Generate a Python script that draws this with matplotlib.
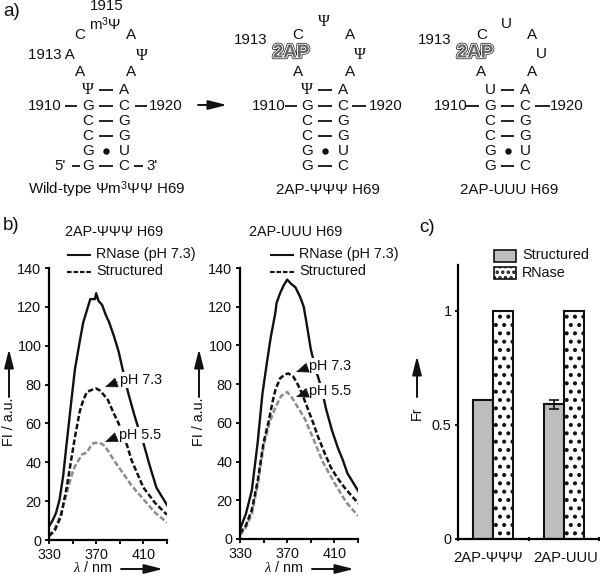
import matplotlib
matplotlib.use("Agg")
import matplotlib.pyplot as plt
import matplotlib.patheffects as pe
from matplotlib.patches import Rectangle

plt.rcParams['font.family'] = ['Liberation Sans', 'DejaVu Sans']
plt.rcParams['mathtext.fontset'] = 'custom'
plt.rcParams['mathtext.it'] = 'Liberation Serif:italic'
plt.rcParams['mathtext.rm'] = 'Liberation Sans'
plt.rcParams['hatch.linewidth'] = 1.7

PSI = 'Ψ'
FS = 10.4

# Panel b, 2AP-ΨΨΨ H69
wl_a_rnase = [330, 333, 336, 339, 342, 345, 349, 352, 356, 359, 362, 365, 367, 369, 370, 372, 375, 378, 381, 385, 389, 392, 397, 402, 406, 410, 415, 421, 425, 430]
fl_a_rnase = [7, 10, 14, 21, 33, 50, 72, 88, 102, 112, 118, 124, 124, 124, 127, 123, 121, 116, 112, 105, 97, 89, 76, 65, 57, 50, 39, 27, 23, 18]
wl_a_struct = [330, 335, 340, 345, 349, 352, 356, 359, 362, 365, 370, 373, 376, 380, 385, 389, 392, 396, 400, 405, 410, 415, 420, 425, 430]
fl_a_struct = [2, 5, 12, 27, 42, 53, 66, 72, 76, 77, 78, 77, 75, 72, 65, 60, 55, 49, 41, 34, 27, 23, 19, 16, 13]
wl_a_55 = [330, 335, 340, 345, 349, 352, 358, 362, 365, 368, 370, 373, 376, 380, 385, 392, 400, 410, 420, 430]
fl_a_55 = [2, 6, 13, 24, 33, 38, 44, 45, 48, 50, 50, 50, 49, 46, 41, 35, 28, 21, 14, 9]

# Panel b, 2AP-UUU H69
wl_b_rnase = [330, 335, 340, 345, 349, 353, 356, 360, 361, 364, 367, 370, 373, 377, 381, 384, 386, 390, 394, 399, 403, 408, 413, 417, 421, 426, 431]
fl_b_rnase = [5, 13, 25, 50, 75, 92, 104, 117, 122, 127, 131, 134, 132, 130, 125, 120, 113, 98, 88, 78, 67, 56, 47, 41, 34, 29, 24]
wl_b_struct = [330, 335, 340, 345, 350, 354, 358, 360, 364, 368, 371, 375, 378, 382, 387, 392, 396, 402, 407, 412, 418, 425, 431]
fl_b_struct = [3, 7, 15, 30, 50, 60, 72, 77, 83, 85, 85.5, 84, 81, 76, 68, 60, 53, 44, 37, 32, 27, 22, 18]
wl_b_55 = [330, 335, 340, 345, 350, 355, 360, 365, 368, 370, 374, 378, 385, 392, 400, 410, 420, 430]
fl_b_55 = [2, 6, 13, 28, 48, 60, 68, 74, 75, 76, 73, 69, 62, 52, 40, 29, 19, 12]

wl_ticks = [330, 350, 370, 390, 410, 430]
wl_labels = ['330', '', '370', '', '410', '']
fl_ticks = [0, 20, 40, 60, 80, 100, 120, 140]

# Panel c
groups = ['2AP-ΨΨΨ', '2AP-UUU']
fr_structured = [0.61, 0.59]
fr_rnase = [1.0, 1.0]
fr_err = [0.0, 0.02]

W, H = 600, 576
fig = plt.figure(figsize=(W / 100, H / 100), dpi=100, facecolor='white')


def axes_px(x0, y_top, x1, y_bot):
    return fig.add_axes([x0 / W, 1 - y_bot / H, (x1 - x0) / W, (y_bot - y_top) / H])


def style(ax):
    ax.spines['top'].set_visible(False)
    ax.spines['right'].set_visible(False)
    for s in ('left', 'bottom'):
        ax.spines[s].set_linewidth(1.6)
    ax.tick_params(width=1.4, length=3, labelsize=FS, pad=2.5, colors='#111111')
    ax.patch.set_alpha(0)


def spectra(ax, rn, st, lo):
    ax.plot(*rn, color='#111111', lw=1.7)
    ax.plot(*lo, color='#8c8c8c', lw=1.8, ls=(0, (2.2, 1.0)))
    ax.plot(*st, color='#111111', lw=1.8, ls=(0, (2.2, 1.0)))
    ax.set_xlim(330, 430)
    ax.set_ylim(0, 140)
    ax.set_xticks(wl_ticks, wl_labels)
    ax.set_yticks(fl_ticks)
    style(ax)


ax1 = axes_px(49, 268, 167, 540)
spectra(ax1, (wl_a_rnase, fl_a_rnase), (wl_a_struct, fl_a_struct), (wl_a_55, fl_a_55))
ax2 = axes_px(240, 268, 358, 539)
spectra(ax2, (wl_b_rnase, fl_b_rnase), (wl_b_struct, fl_b_struct), (wl_b_55, fl_b_55))

ax3 = axes_px(458, 265, 599, 539)
pos = [0.5, 1.5]
bw = 0.285
ax3.bar([p - bw / 2 for p in pos], fr_structured, bw, color='#bdbdbd', edgecolor='#111111', lw=1.5)
ax3.bar([p + bw / 2 for p in pos], fr_rnase, bw, color='white', edgecolor='#111111', lw=1.5, hatch='..')
ax3.errorbar([pos[1] - bw / 2], [fr_structured[1]], yerr=[fr_err[1]], color='#111111', lw=1.2, capsize=3.5, capthick=1.2)
ax3.set_xlim(0, 2)
ax3.set_ylim(0, 1.2)
ax3.set_xticks([0, 1, 2], ['', '', ''])
ax3.set_yticks([0, 0.5, 1], ['0', '0.5', '1'])
style(ax3)
ax3.tick_params(axis='x', length=2.5, direction='inout')
ax3.tick_params(axis='y', length=2)

# Overlay in pixel coordinates for the secondary structures and annotations
ov = fig.add_axes([0, 0, 1, 1], zorder=10)
ov.set_xlim(0, W)
ov.set_ylim(H, 0)
ov.axis('off')


def T(x, y, s, ha='center', size=FS, **kw):
    return ov.text(x, y, s, ha=ha, va='center', fontsize=size, color='#111111', **kw)


def dash(x0, x1, y, lw=1.3):
    ov.plot([x0, x1], [y, y], color='#111111', lw=lw, solid_capstyle='butt')


def arrow(x0, y0, x1, y1, ms=14):
    ov.annotate('', xy=(x1, y1), xytext=(x0, y0),
                arrowprops=dict(arrowstyle='-|>,head_length=0.8,head_width=0.2', color='#111111', lw=1.4,
                                shrinkA=0, shrinkB=0, mutation_scale=ms))


def psi(x, y):
    T(x, y, PSI, family='Liberation Serif', size=11.5)


def stem(xl, xr, top, d1, d3, lab_l, lab_r):
    rows = [('G', 'C', '-'), ('C', 'G', '-'), ('C', 'G', '-'), ('G', 'U', '.'), ('G', 'C', '-')]
    for i, (a, b, k) in enumerate(rows):
        y = 106 + i * 15
        T(xl, y, a, size=11)
        T(xr, y, b, size=11)
        if k == '-':
            dash(xl + 11, xr - 11, y)
        else:
            ov.plot([(xl + xr) / 2], [y], 'o', ms=3.6, color='#111111')
    if top == PSI:
        psi(xl, 90)
    else:
        T(xl, 90, top, size=11)
    T(xr, 90, 'A', size=11)
    dash(xl + 11, xr - 11, 90)
    dash(*d1, 106)
    dash(*d3, 106)
    T(lab_l, 106, '1910', size=10.8)
    T(lab_r, 106, '1920', size=10.8)


def outlined(x, y):
    t = T(x, y, '2AP', size=13.5, fontweight='bold')
    t.set_color('#666666')
    t.set_path_effects([pe.Stroke(linewidth=2.4, foreground='#111111'),
                        pe.Stroke(linewidth=1.4, foreground='white'),
                        pe.Normal()])


T(3, 12, 'a)', ha='left', size=13.5)
T(3, 226, 'b)', ha='left', size=13.5)
T(419, 228, 'c)', ha='left', size=13.5)

# Wild type
T(107, 6, '1915', size=10.8)
T(105, 24, 'm$^{3}$Ψ', size=10.8)
T(80, 35, 'C', size=11); T(131, 35, 'A', size=11)
T(51, 55, '1913 A', size=10.8); psi(142, 56)
T(80, 72, 'A', size=11); T(131, 72, 'A', size=11)
stem(88, 124, PSI, (65, 77), (135, 147), 45, 166)
T(60, 166, "5'", size=10.8); dash(72, 80, 166); dash(134, 143, 166); T(152, 166, "3'", size=10.8)
T(107, 190, 'Wild-type Ψm$^{3}$ΨΨ H69', size=10.9)
arrow(198, 105, 227, 105)

# 2AP-ΨΨΨ
psi(324, 22)
T(298, 35, 'C', size=11); T(350, 35, 'A', size=11); T(251, 40, '1913', size=10.8)
outlined(291, 53)
psi(360, 55)
T(298, 72, 'A', size=11); T(350, 72, 'A', size=11)
stem(307, 343, PSI, (285, 297), (352, 366), 269, 386)
T(328, 190, '2AP-ΨΨΨ H69', size=10.9)

# 2AP-UUU
T(506, 24, 'U', size=11); T(482, 35, 'C', size=11); T(532, 35, 'A', size=11); T(435, 40, '1913', size=10.8)
outlined(475, 53)
T(541, 54, 'U', size=11)
T(481, 72, 'A', size=11); T(532, 72, 'A', size=11)
stem(490, 525, 'U', (465, 479), (535, 550), 451, 567)
T(509, 190, '2AP-UUU H69', size=10.9)

# Panel b annotations
for tx, lx0, title in [(114, 67, '2AP-ΨΨΨ H69'), (296, 270, '2AP-UUU H69')]:
    T(tx, 232, title)
    dash(lx0, lx0 + 24, 255, lw=1.5)
    ov.plot([lx0, lx0 + 24], [272, 272], color='#111111', lw=1.5, ls=(0, (2.2, 0.9)))
    T(lx0 + 29, 254, 'RNase (pH 7.3)', ha='left')
    T(lx0 + 29, 271, 'Structured', ha='left')

bb = dict(facecolor='white', edgecolor='none', pad=1.0)
for x, y, tip, s in [(120, 380, (105, 387), 'pH 7.3'), (119, 435, (105, 442), 'pH 5.5'),
                     (309, 366, (296, 372), 'pH 7.3'), (309, 391, (296, 397), 'pH 5.5')]:
    T(x, y, s, ha='left', bbox=bb)
    ov.annotate('', xy=tip, xytext=(x - 2, y + 2),
                arrowprops=dict(arrowstyle='-|>,head_length=0.75,head_width=0.3', color='#111111', lw=0.5,
                                shrinkA=0, shrinkB=0, mutation_scale=11))

for x in (9, 199):
    T(x, 422, 'FI / a.u.', rotation=90)
    arrow(x, 397, x, 349)
for x0 in (72, 263):
    T(x0 + 21, 568, '$\\mathit{\\lambda}$ / nm')
    arrow(x0 + 49, 569, x0 + 91, 569)

# Panel c annotations
T(417, 413, 'Fr', rotation=90)
arrow(417, 397, 417, 356)
T(488, 558, groups[0], size=10.6)
T(566, 558, groups[1], size=10.6)
ov.add_patch(Rectangle((494, 250), 22, 12, facecolor='#bdbdbd', edgecolor='#111111', lw=1.2))
ov.add_patch(Rectangle((494, 267), 22, 12, facecolor='white', edgecolor='#111111', lw=1.2, hatch='...'))
T(522, 255, 'Structured', ha='left')
T(522, 273, 'RNase', ha='left')

fig.savefig('out.png', dpi=100, facecolor='white')
